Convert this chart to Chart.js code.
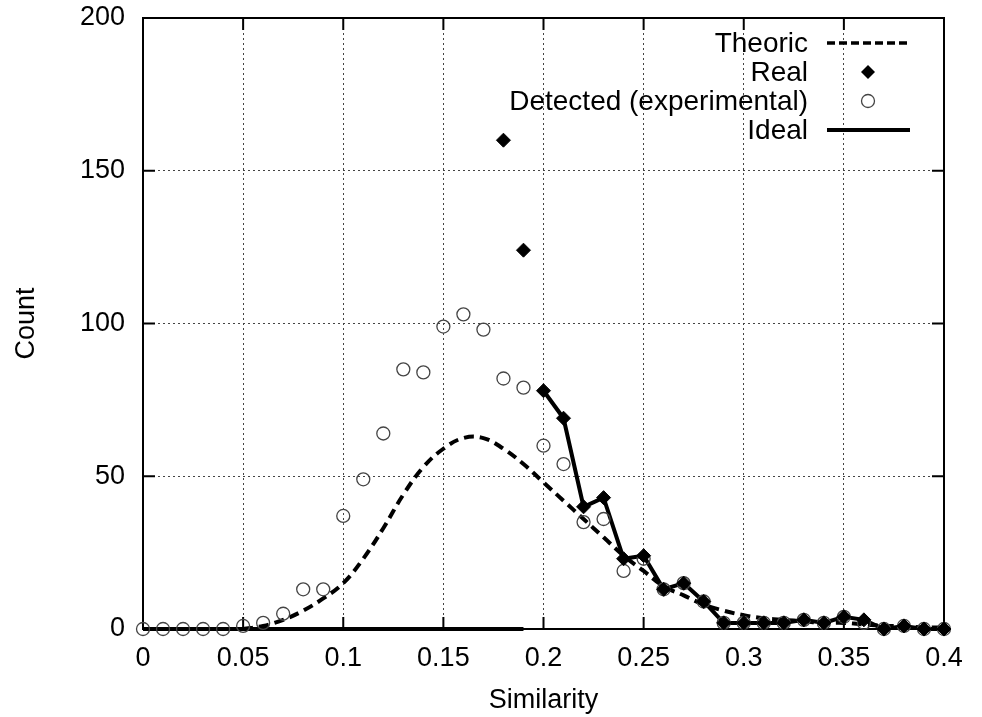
<!DOCTYPE html>
<html>
<head>
<meta charset="utf-8">
<script src="https://cdn.jsdelivr.net/npm/chart.js@4/dist/chart.umd.min.js"></script>
<style>
  html, body { margin: 0; padding: 0; background: #fff; }
  #wrap { width: 982px; height: 717px; }
</style>
</head>
<body>
<div id="wrap"><canvas id="chart" width="982" height="717"></canvas></div>
<script>
// x positions of the samples
const similarity = [0, 0.01, 0.02, 0.03, 0.04, 0.05, 0.06, 0.07, 0.08, 0.09,
  0.1, 0.11, 0.12, 0.13, 0.14, 0.15, 0.16, 0.17, 0.18, 0.19,
  0.2, 0.21, 0.22, 0.23, 0.24, 0.25, 0.26, 0.27, 0.28, 0.29,
  0.3, 0.31, 0.32, 0.33, 0.34, 0.35, 0.36, 0.37, 0.38, 0.39, 0.4];

// Detected (experimental) counts, one per similarity value
const detected = [0, 0, 0, 0, 0, 1, 2, 5, 13, 13,
  37, 49, 64, 85, 84, 99, 103, 98, 82, 79,
  60, 54, 35, 36, 19, 23, 13, 15, 9, 2,
  2, 2, 2, 3, 2, 4, 2, 0, 1, 0, 0];

// Real counts from 0.18 upward
const realX = [0.18, 0.19, 0.2, 0.21, 0.22, 0.23, 0.24, 0.25, 0.26, 0.27, 0.28,
  0.29, 0.3, 0.31, 0.32, 0.33, 0.34, 0.35, 0.36, 0.37, 0.38, 0.39, 0.4];
const realY = [160, 124, 78, 69, 40, 43, 23, 24, 13, 15, 9,
  2, 2, 2, 2, 3, 2, 4, 3, 0, 1, 0, 0];

// Theoretic curve, 0.05 to 0.4
const theoX = [0.05, 0.06, 0.07, 0.08, 0.09, 0.1, 0.11, 0.12, 0.13, 0.14,
  0.15, 0.16, 0.17, 0.18, 0.19, 0.2, 0.21, 0.22, 0.23, 0.24,
  0.25, 0.26, 0.27, 0.28, 0.29, 0.3, 0.31, 0.32, 0.33, 0.34,
  0.35, 0.36, 0.37, 0.38, 0.39, 0.4];
const theoY = [0, 1, 3, 6, 10, 15, 23, 33, 44, 53,
  59, 62.5, 62.5, 59, 54, 48, 42, 36, 30, 24,
  19, 14, 11, 8, 6, 4.5, 3.5, 3, 2.5, 2,
  2, 1.5, 1, 1, 0.5, 0.5];

// Ideal: zero up to 0.19, then follows the real counts from 0.2
const idealLowX = [0, 0.01, 0.02, 0.03, 0.04, 0.05, 0.06, 0.07, 0.08, 0.09,
  0.1, 0.11, 0.12, 0.13, 0.14, 0.15, 0.16, 0.17, 0.18, 0.19];
const idealLowY = [0, 0, 0, 0, 0, 0, 0, 0, 0, 0, 0, 0, 0, 0, 0, 0, 0, 0, 0, 0];

const yTicks = [0, 50, 100, 150, 200];
const xTicks = [0, 0.05, 0.1, 0.15, 0.2, 0.25, 0.3, 0.35, 0.4];

const legendItems = ['Theoric', 'Real', 'Detected (experimental)', 'Ideal'];

const FONT = '"Liberation Sans", Arial, Helvetica, sans-serif';

const pts = (xs, ys) => xs.map((x, i) => ({ x: x, y: ys[i] }));

const idealData = pts(idealLowX, idealLowY)
  .concat([{ x: 0.195, y: null }])
  .concat(pts(realX.slice(2), realY.slice(2)));

// frame, inward ticks, and the legend in gnuplot style
const framePlugin = {
  id: 'frame',
  beforeDatasetsDraw(chart) {
    const { ctx, chartArea: a, scales } = chart;
    ctx.save();
    ctx.strokeStyle = '#000';
    ctx.lineWidth = 2;
    ctx.strokeRect(a.left, a.top, a.right - a.left, a.bottom - a.top);
    ctx.beginPath();
    xTicks.forEach(v => {
      const px = scales.x.getPixelForValue(v);
      ctx.moveTo(px, a.bottom); ctx.lineTo(px, a.bottom - 12);
      ctx.moveTo(px, a.top); ctx.lineTo(px, a.top + 12);
    });
    yTicks.forEach(v => {
      const py = scales.y.getPixelForValue(v);
      ctx.moveTo(a.left, py); ctx.lineTo(a.left + 12, py);
      ctx.moveTo(a.right, py); ctx.lineTo(a.right - 12, py);
    });
    ctx.stroke();
    ctx.restore();
  },
  afterDraw(chart) {
    const { ctx } = chart;
    const textRight = 808, sx0 = 827, sx1 = 910, sxm = 868;
    const rows = [43, 72, 101, 130];
    ctx.save();
    ctx.font = '28px ' + FONT;
    ctx.fillStyle = '#000';
    ctx.textAlign = 'right';
    ctx.textBaseline = 'middle';
    legendItems.forEach((t, i) => ctx.fillText(t, textRight, rows[i] + 1));
    // Theoric sample
    ctx.strokeStyle = '#000';
    ctx.lineWidth = 3.5;
    ctx.setLineDash([8, 4]);
    ctx.beginPath(); ctx.moveTo(sx0, rows[0]); ctx.lineTo(sx1, rows[0]); ctx.stroke();
    ctx.setLineDash([]);
    // Real sample
    ctx.fillStyle = '#000';
    ctx.beginPath();
    ctx.moveTo(sxm, rows[1] - 7); ctx.lineTo(sxm + 7, rows[1]);
    ctx.lineTo(sxm, rows[1] + 7); ctx.lineTo(sxm - 7, rows[1]);
    ctx.closePath(); ctx.fill();
    // Detected sample
    ctx.strokeStyle = '#444';
    ctx.lineWidth = 1.3;
    ctx.beginPath(); ctx.arc(sxm, rows[2], 6.5, 0, Math.PI * 2); ctx.stroke();
    // Ideal sample
    ctx.strokeStyle = '#000';
    ctx.lineWidth = 4;
    ctx.beginPath(); ctx.moveTo(sx0, rows[3]); ctx.lineTo(sx1, rows[3]); ctx.stroke();
    ctx.restore();
  }
};

const ctx = document.getElementById('chart').getContext('2d');

new Chart(ctx, {
  type: 'line',
  data: {
    datasets: [
      {
        label: 'Real',
        data: pts(realX, realY),
        showLine: false,
        pointStyle: 'rectRot',
        pointRadius: 7,
        pointBackgroundColor: '#000',
        pointBorderColor: '#000',
        pointBorderWidth: 1,
        clip: false,
        order: 1
      },
      {
        label: 'Detected (experimental)',
        data: pts(similarity, detected),
        showLine: false,
        pointStyle: 'circle',
        pointRadius: 6.5,
        pointBackgroundColor: 'rgba(0,0,0,0)',
        pointBorderColor: '#444',
        pointBorderWidth: 1.3,
        clip: false,
        order: 2
      },
      {
        label: 'Ideal',
        data: idealData,
        borderColor: '#000',
        borderWidth: 4,
        pointRadius: 0,
        tension: 0,
        spanGaps: false,
        clip: false,
        order: 3
      },
      {
        label: 'Theoric',
        data: pts(theoX, theoY),
        borderColor: '#000',
        borderWidth: 4,
        borderDash: [10, 6],
        pointRadius: 0,
        tension: 0.4,
        clip: false,
        order: 4
      }
    ]
  },
  options: {
    responsive: false,
    animation: false,
    devicePixelRatio: 1,
    layout: { padding: { top: 18, right: 38, left: 0, bottom: 0 } },
    plugins: {
      legend: { display: false },
      tooltip: { enabled: false }
    },
    scales: {
      x: {
        type: 'linear',
        min: 0,
        max: 0.4,
        afterBuildTicks(scale) { scale.ticks = xTicks.map(v => ({ value: v })); },
        afterFit(scale) { scale.height = 88; scale.paddingLeft = 0; scale.paddingRight = 0; },
        ticks: {
          color: '#000',
          font: { family: FONT, size: 27 },
          padding: 13,
          maxRotation: 0,
          autoSkip: false,
          callback: v => String(+v.toFixed(2))
        },
        grid: { color: '#444', lineWidth: 1, drawTicks: false },
        border: { display: false, dash: [2, 3] },
        title: {
          display: true,
          text: 'Similarity',
          color: '#000',
          font: { family: FONT, size: 27 },
          padding: { top: 0, bottom: 0 }
        }
      },
      y: {
        type: 'linear',
        min: 0,
        max: 200,
        afterBuildTicks(scale) { scale.ticks = yTicks.map(v => ({ value: v })); },
        afterFit(scale) { scale.width = 143; scale.paddingTop = 0; scale.paddingBottom = 0; },
        ticks: {
          color: '#000',
          font: { family: FONT, size: 27 },
          padding: 18
        },
        grid: { color: '#444', lineWidth: 1, drawTicks: false },
        border: { display: false, dash: [2, 3] },
        title: {
          display: true,
          text: 'Count',
          color: '#000',
          font: { family: FONT, size: 27 },
          padding: { top: 10, bottom: 0 }
        }
      }
    }
  },
  plugins: [framePlugin]
});
</script>
</body>
</html>
